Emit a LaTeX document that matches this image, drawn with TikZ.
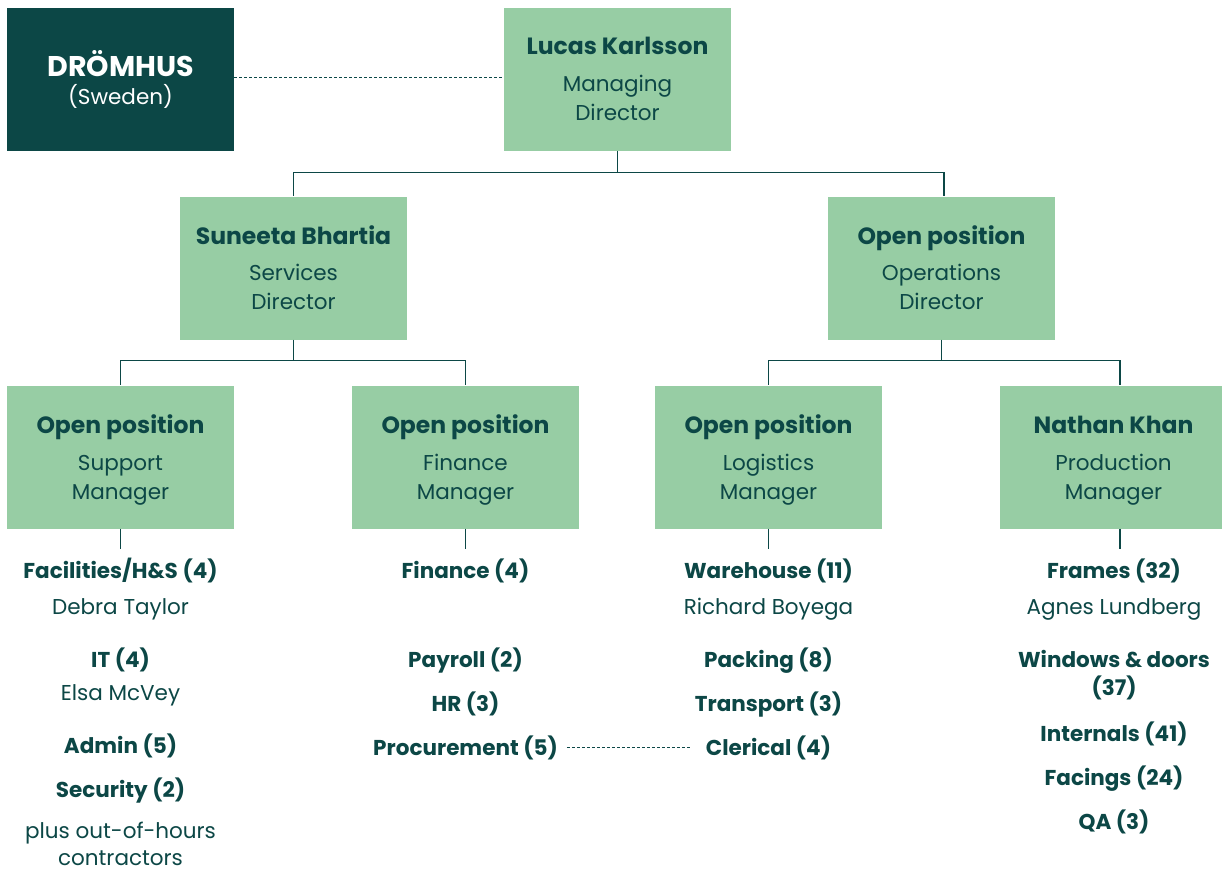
\documentclass[tikz,border=0pt]{standalone}
\usepackage{fontspec}
\setmainfont{Poppins}
\definecolor{dk}{HTML}{0C4746}
\definecolor{lg}{HTML}{97CDA4}
\tikzset{
  box/.style={fill=lg, minimum width=227pt, minimum height=143pt, inner sep=0pt},
  dbox/.style={fill=dk, minimum width=227pt, minimum height=143pt, inner sep=0pt},
  ttl/.style={anchor=base, text=dk, font=\fontsize{23.5}{28}\selectfont\bfseries, inner sep=0pt},
  sub/.style={anchor=base, text=dk, font=\fontsize{21.5}{25}\selectfont, inner sep=0pt},
  item/.style={anchor=base, text=dk, font=\fontsize{21.5}{25}\selectfont\bfseries, inner sep=0pt},
  who/.style={anchor=base, text=dk, font=\fontsize{21.5}{25}\selectfont, inner sep=0pt},
  conn/.style={draw=dk, line width=1.3pt},
  dline/.style={draw=dk, line width=0.8pt, dash pattern=on 3pt off 2pt}
}
\begin{document}
\begin{tikzpicture}[x=1pt,y=-1pt]
\clip (0,0) rectangle (1222,871);
\fill[white] (0,0) rectangle (1222,871);
% boxes
\node[dbox] (drom) at (120.5,79.5) {};
\node[box] (lucas) at (617.5,79.5) {};
\node[box] (sun) at (293.5,268) {};
\node[box] (ops) at (941.5,268) {};
\node[box] (sup) at (120.5,457) {};
\node[box] (fin) at (465.5,457) {};
\node[box] (log) at (768.5,457) {};
\node[box] (prod) at (1113.5,457) {};
% box texts
\node[anchor=base, text=white, font=\fontsize{28.5}{32}\selectfont\bfseries, inner sep=0pt] (drom-t) at (120.5,76) {DRÖMHUS};
\node[anchor=base, text=white, font=\fontsize{21.5}{25}\selectfont, inner sep=0pt] (drom-s) at (120.5,104) {(Sweden)};
\node[ttl] (lucas-t) at (617.5,54) {Lucas Karlsson};
\node[sub] (lucas-a) at (617.5,91) {Managing};
\node[sub] (lucas-b) at (617.5,120) {Director};
\node[ttl] (sun-t) at (293.5,244) {Suneeta Bhartia};
\node[sub] (sun-a) at (293.5,280) {Services};
\node[sub] (sun-b) at (293.5,309) {Director};
\node[ttl] (ops-t) at (941.5,244) {Open position};
\node[sub] (ops-a) at (941.5,280) {Operations};
\node[sub] (ops-b) at (941.5,309) {Director};
\node[ttl] (sup-t) at (120.5,433) {Open position};
\node[sub] (sup-a) at (120.5,470) {Support};
\node[sub] (sup-b) at (120.5,499) {Manager};
\node[ttl] (fin-t) at (465.5,433) {Open position};
\node[sub] (fin-a) at (465.5,470) {Finance};
\node[sub] (fin-b) at (465.5,499) {Manager};
\node[ttl] (log-t) at (768.5,433) {Open position};
\node[sub] (log-a) at (768.5,470) {Logistics};
\node[sub] (log-b) at (768.5,499) {Manager};
\node[ttl] (prod-t) at (1113.5,433) {Nathan Khan};
\node[sub] (prod-a) at (1113.5,470) {Production};
\node[sub] (prod-b) at (1113.5,499) {Manager};
% connectors
\draw[conn] (lucas.south) -- ++(0,21) coordinate (l1) -| (sun.north);
\draw[conn] (l1) -| ([xshift=2.5pt]ops.north);
\draw[conn] (sun.south) -- ++(0,21) coordinate (s1) -| (sup.north);
\draw[conn] (s1) -| (fin.north);
\draw[conn] (ops.south) -- ++(0,21) coordinate (o1) -| (log.north);
\draw[conn] (o1) -| ([xshift=6.5pt]prod.north);
\coordinate (supst) at (120.5,549);
\coordinate (finst) at (465.5,549);
\coordinate (logst) at (768.5,549);
\coordinate (prodst) at (1120,549);
\draw[conn] (sup.south) -- (supst);
\draw[conn] (fin.south) -- (finst);
\draw[conn] (log.south) -- (logst);
\draw[conn] ([xshift=6.5pt]prod.south) -- (prodst);
\draw[dline] ([yshift=2.5pt]drom.east) -- ([yshift=2.5pt]lucas.west);
% lists
\node[item] (c1a) at (120.5,578) {Facilities/H\&S (4)};
\node[who] (c1b) at (120.5,614) {Debra Taylor};
\node[item] (c1c) at (120.5,667) {IT (4)};
\node[who] (c1d) at (120.5,700) {Elsa McVey};
\node[item] (c1e) at (120.5,753) {Admin (5)};
\node[item] (c1f) at (120.5,797) {Security (2)};
\node[who] (c1g) at (120.5,838) {plus out-of-hours};
\node[who] (c1h) at (120.5,865) {contractors};
\node[item] (c2a) at (465.5,578) {Finance (4)};
\node[item] (c2b) at (465.5,667) {Payroll (2)};
\node[item] (c2c) at (465.5,711) {HR (3)};
\node[item] (c2d) at (465.5,755) {Procurement (5)};
\node[item] (c3a) at (768.5,578) {Warehouse (11)};
\node[who] (c3b) at (768.5,614) {Richard Boyega};
\node[item] (c3c) at (768.5,667) {Packing (8)};
\node[item] (c3d) at (768.5,711) {Transport (3)};
\node[item] (c3e) at (768.5,755) {Clerical (4)};
\node[item] (c4a) at (1114,578) {Frames (32)};
\node[who] (c4b) at (1114,614) {Agnes Lundberg};
\node[item] (c4c) at (1114,667) {Windows \& doors};
\node[item] (c4d) at (1114,695) {(37)};
\node[item] (c4e) at (1114,741) {Internals (41)};
\node[item] (c4f) at (1114,785) {Facings (24)};
\node[item] (c4g) at (1114,829) {QA (3)};
\draw[dline, shorten <=9pt, shorten >=14pt] (c2d.east) -- (c3e.west);
\end{tikzpicture}
\end{document}
